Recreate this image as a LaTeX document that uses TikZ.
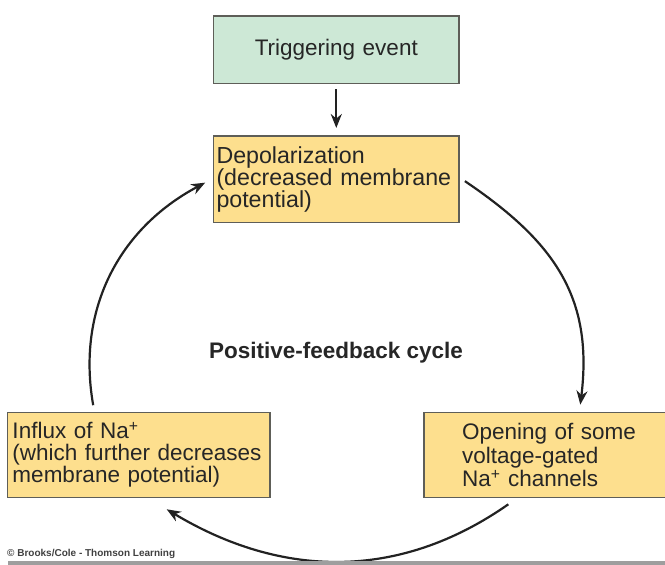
\documentclass[tikz,border=0pt]{standalone}
\usepackage{fontspec}
\setmainfont{Liberation Sans}
\usetikzlibrary{positioning, arrows.meta, calc}

\definecolor{trigfill}{HTML}{CDE8D6}
\definecolor{cyclefill}{HTML}{FDDF8E}
\definecolor{boxline}{HTML}{5E5E58}
\definecolor{arrowink}{HTML}{222222}

\begin{document}
\begin{tikzpicture}[x=1pt, y=1pt,
    evtbox/.style={draw=boxline, line width=1.6pt, inner ysep=0pt, anchor=north west, text=black!85, font=\fontsize{22.5}{22}\selectfont, align=left},
    flowarrow/.style={-{Stealth[length=14pt, width=11pt]}, line width=2.2pt, arrowink},
]
\useasboundingbox (0,0) rectangle (665,-565);

\node[evtbox, fill=trigfill, inner xsep=3pt, text width=239.6pt, minimum height=67.7pt, align=center] (trig) at (212.7,-15) {Triggering event};
\node[evtbox, fill=cyclefill, inner xsep=3pt, text width=239.6pt, minimum height=86.7pt, font=\fontsize{23.2}{22}\selectfont] (depol) at (212.7,-135) {Depolarization\\(decreased membrane\\potential)};
\node[evtbox, fill=cyclefill, inner xsep=5pt, text width=252.3pt, minimum height=85pt] (influx) at (6.7,-411.7) {Influx of Na\smash{\textsuperscript{+}}\\(which further decreases\\membrane potential)};
\node[evtbox, fill=cyclefill, inner xsep=38pt, text width=190pt, minimum height=85pt, font=\fontsize{22.5}{23.5}\selectfont] (open) at (423.3,-411.7) {Opening of some\\voltage-gated\\Na\smash{\textsuperscript{+}} channels};

\node[font=\bfseries\fontsize{22.5}{24}\selectfont, text=black!85] (cyclelbl) at (336,-353) {Positive-feedback cycle};

\draw[flowarrow] ([yshift=-5pt]trig.south) -- ([yshift=7pt]depol.north);
\draw[flowarrow] ([shift={(5pt,-2pt)}]depol.east) to[out=-34, in=83, looseness=1.1] ($(open.north west)+(157,7)$);
\draw[flowarrow] ($(open.south west)+(85,-6)$) to[out=215, in=-31] ($(influx.south west)+(160,-11)$);
\draw[flowarrow] ($(influx.north west)+(86.5,6.5)$) to[out=100, in=208] ($(depol.west)+(-7.5,-3.5)$);

\node[anchor=west, inner sep=0pt, font=\bfseries\fontsize{10}{12}\selectfont, text=black!75] (credit) at (7,-553.5) {© Brooks/Cole - Thomson Learning};
\fill[black!38] (8,-561) rectangle (665,-565);

\end{tikzpicture}
\end{document}
